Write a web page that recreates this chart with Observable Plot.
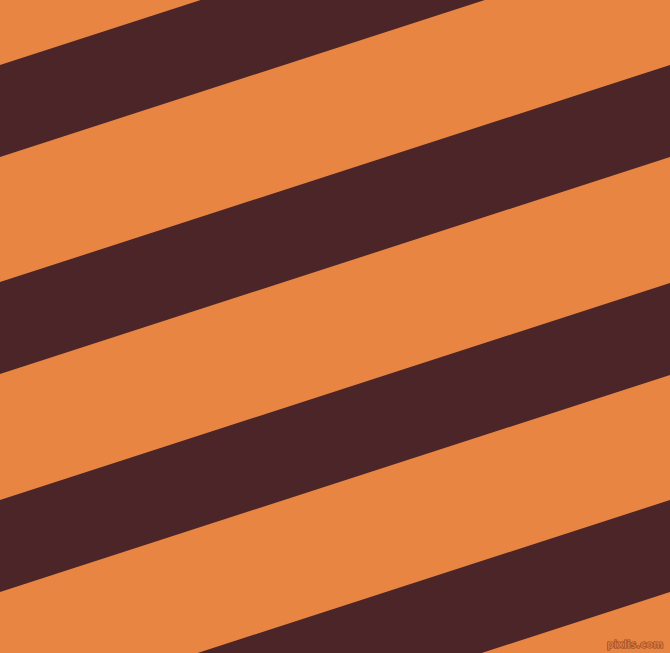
<!DOCTYPE html>
<html>
<head>
<meta charset="utf-8">
<script src="https://cdn.jsdelivr.net/npm/d3@7"></script>
<script src="https://cdn.jsdelivr.net/npm/@observablehq/plot@0.6"></script>
<style>
  html, body { margin: 0; padding: 0; background: #E98542; overflow: hidden; }
  #chart svg { display: block; }
</style>
</head>
<body>
<div id="chart"></div>
<script>
// Stripe data: left-edge (x=0) y-intercept of each dark band's upper edge
const stripeStarts = [65, 282, 500, 717];
const stripeThickness = [92, 92, 92, 92];
const stripeRise = 217;           // vertical rise across the full width
const edgeX = [0, 670];
const watermark = ["pixlis.com"];

const bandColor = "#4B2528";
const baseColor = "#E98542";

const rows = [];
stripeStarts.forEach((s, i) => {
  edgeX.forEach(x => {
    const shift = stripeRise * x / 670;
    rows.push({stripe: i, x, top: s - shift, bottom: s + stripeThickness[i] - shift});
  });
});

const chart = Plot.plot({
  width: 670,
  height: 653,
  margin: 0,
  style: {background: baseColor},
  x: {domain: [0, 670], range: [0, 670], axis: null},
  y: {domain: [0, 653], range: [0, 653], axis: null},
  marks: [
    Plot.areaY(rows, {x: "x", y1: "top", y2: "bottom", z: "stripe", fill: bandColor, curve: "linear"}),
    Plot.text(watermark, {
      text: d => d, frameAnchor: "bottom-right", dx: -7, dy: -6, lineAnchor: "bottom",
      fontSize: 10, fontFamily: "DejaVu Sans", fontWeight: "bold",
      fill: "#D9783C", stroke: "#8A4526", strokeWidth: 1.1, paintOrder: "stroke"
    })
  ]
});
document.getElementById("chart").appendChild(chart);
</script>
</body>
</html>
